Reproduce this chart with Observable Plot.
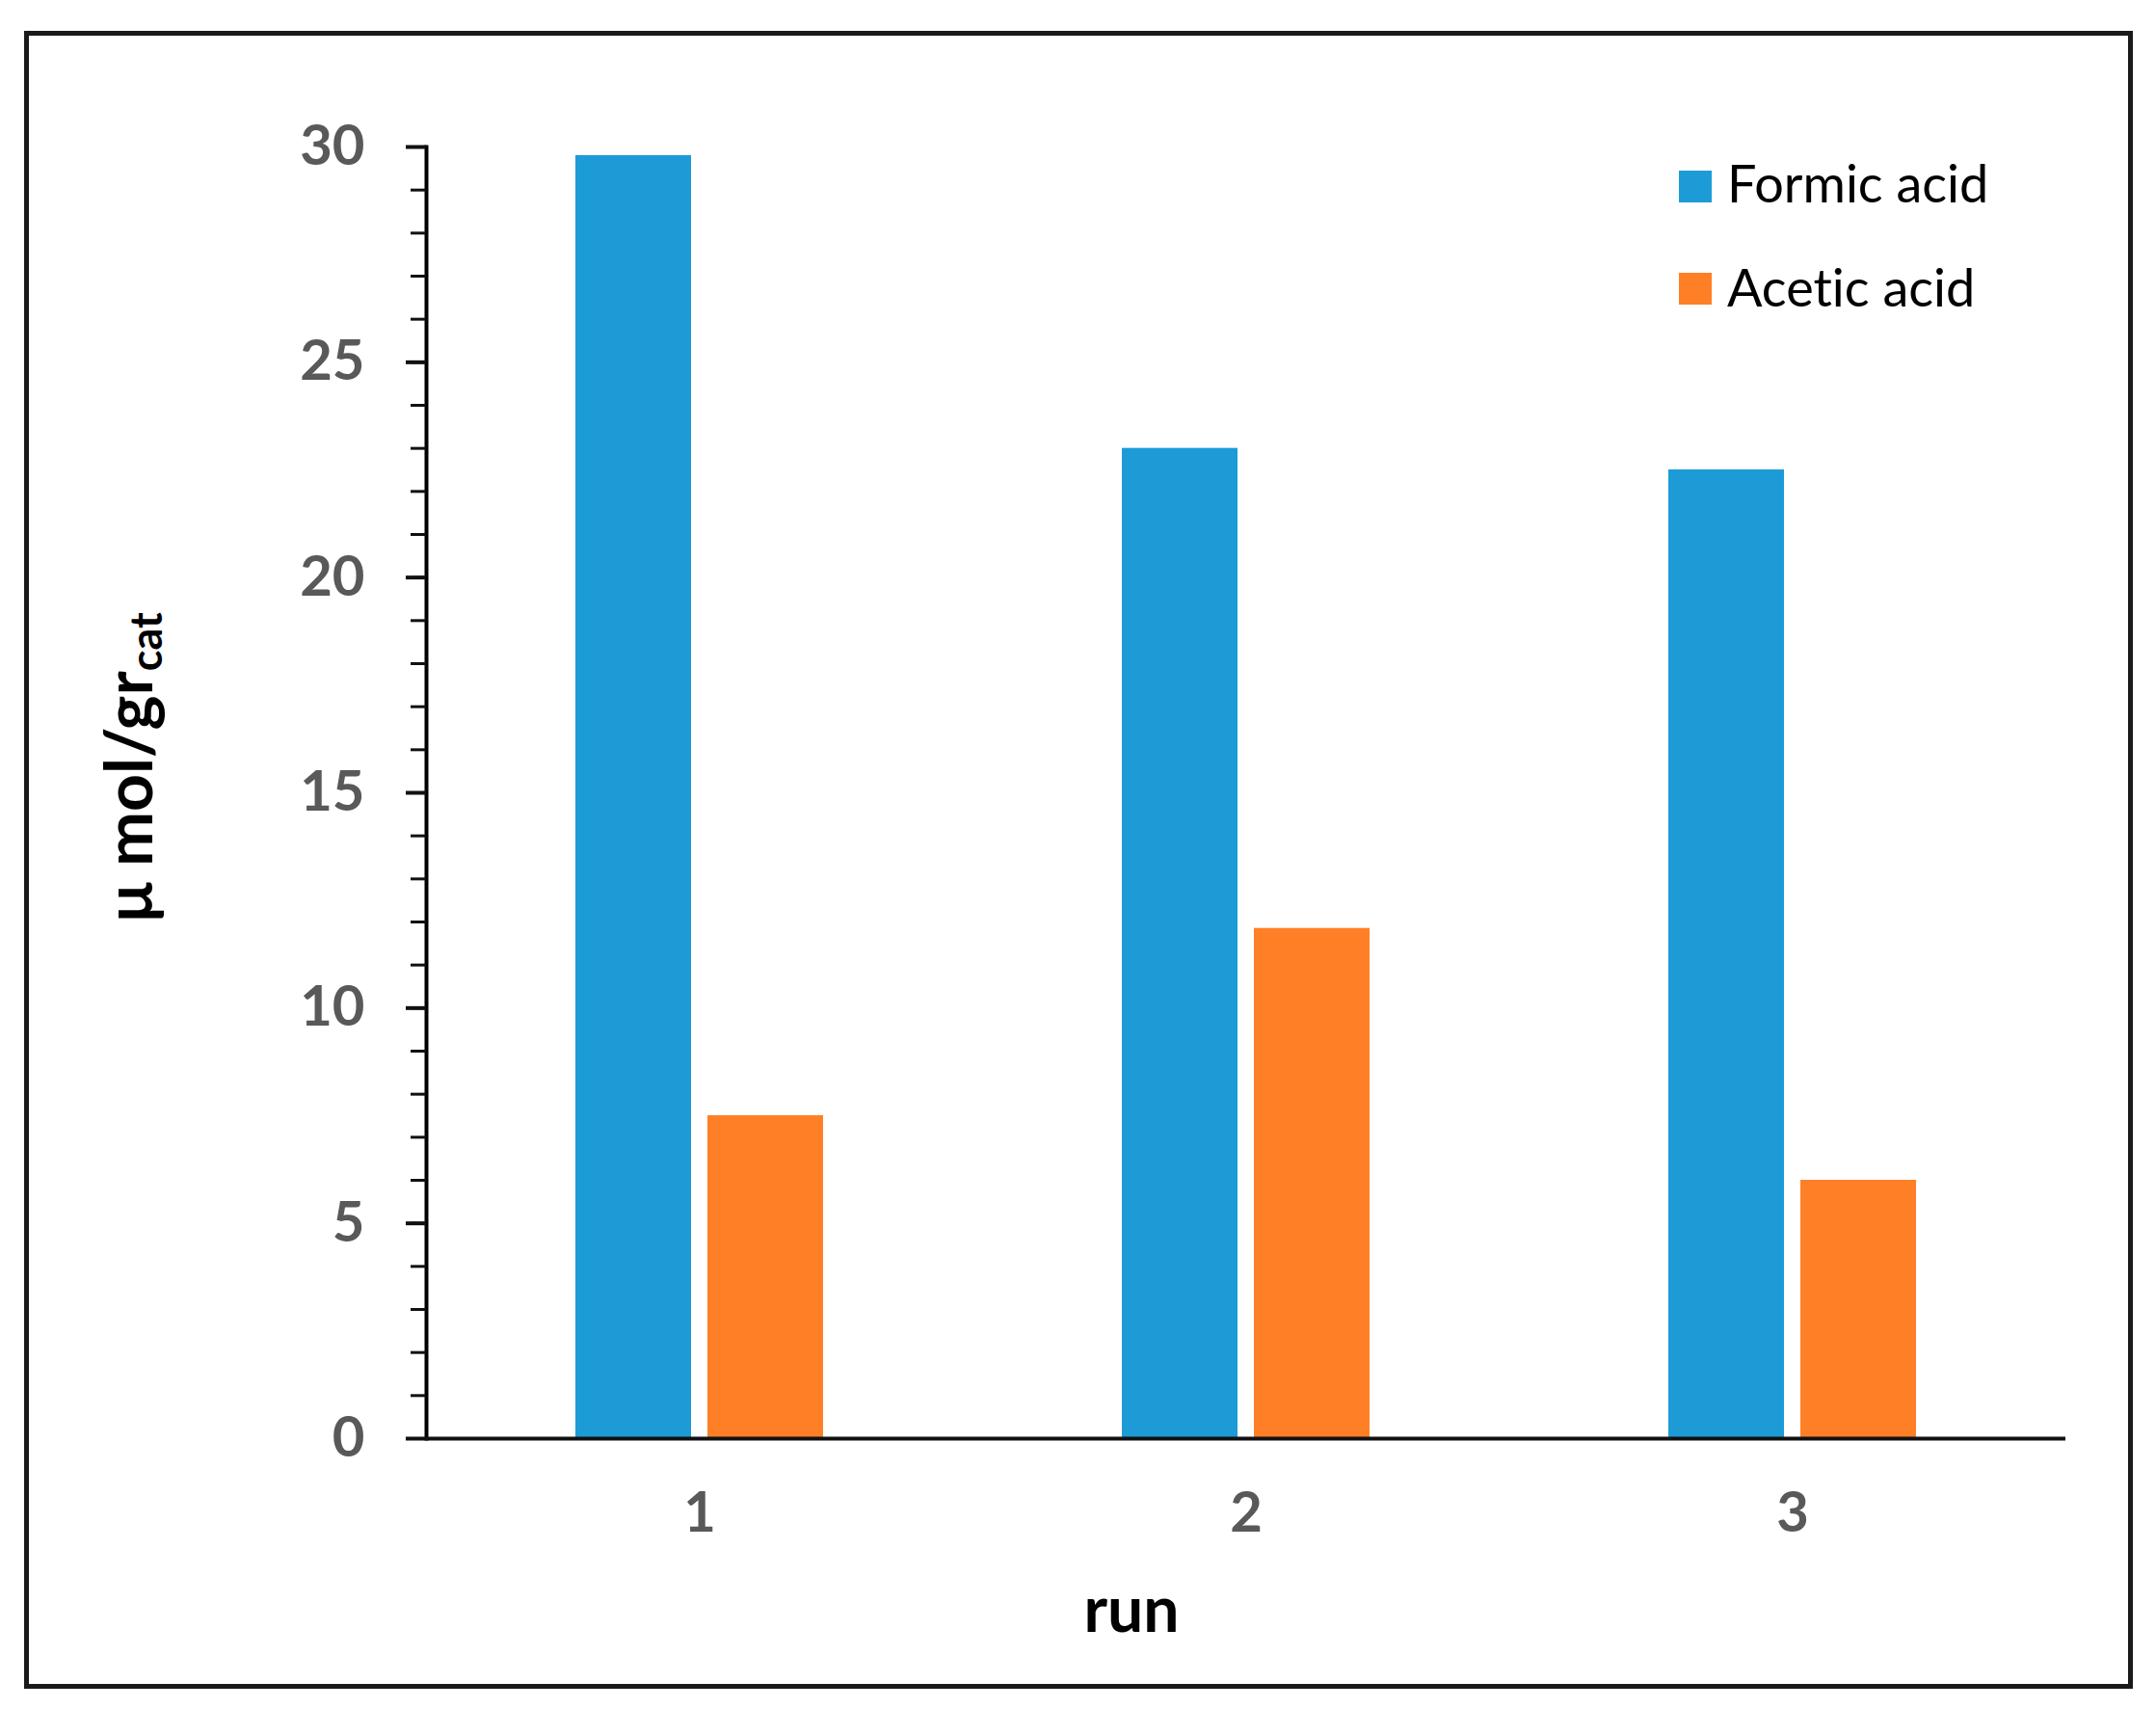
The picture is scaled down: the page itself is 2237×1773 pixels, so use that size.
<!DOCTYPE html>
<html>
<head>
<meta charset="utf-8">
<script src="https://cdn.jsdelivr.net/npm/d3@7"></script>
<script src="https://cdn.jsdelivr.net/npm/@observablehq/plot@0.6"></script>
<style>
  html, body { margin: 0; padding: 0; background: #fff; }
  body { width: 2237px; height: 1773px; position: relative; overflow: hidden; font-family: Lato, "Open Sans", sans-serif; font-variant-ligatures: none; }
  #border { position: absolute; left: 25px; top: 32px; width: 2188px; height: 1720px; box-sizing: border-box; border: 5px solid #1a1a1a; }
  #chart, #minor { position: absolute; left: 0; top: 0; }
  #chart svg [aria-label^="y-axis"] text, #chart svg [aria-label^="fx-axis"] text { fill: #595959 !important; font-size: 58px !important; font-weight: 700 !important; font-family: Lato, sans-serif !important; }
  #chart svg [aria-label^="y-axis"] line { stroke: #111; stroke-width: 3px; }
  #minor svg line, #minor svg path { stroke: #111 !important; stroke-width: 3px !important; }
  #chart svg [aria-label^="y-axis"] path, #chart svg [aria-label="frame"] { stroke: #111; stroke-width: 4px; }
  #legend { position: absolute; left: 1742px; top: 150px; font-family: Lato, sans-serif; font-size: 54px; color: #000; font-variant-ligatures: none; font-feature-settings: "liga" 0, "dlig" 0; }
  .item { position: absolute; left: 0; white-space: nowrap; height: 60px; }
  .sw { position: absolute; left: 0; width: 34px; height: 33px; }
  .lab { position: absolute; left: 50px; line-height: 1; }
  #ylabel { position: absolute; left: 136px; top: 796px; transform: translate(-50%, -50%) rotate(-90deg); font-family: Lato, sans-serif; font-weight: 700; font-size: 68px; white-space: nowrap; color: #000; line-height: 1; }
  #ylabel sub { font-size: 0.66em; vertical-align: -0.22em; }
  #xlabel { position: absolute; left: 1174px; top: 1686px; transform: translate(-50%, -78%); font-family: Lato, sans-serif; font-weight: 700; font-size: 66px; color: #000; line-height: 1; }
</style>
</head>
<body>
<div id="border"></div>
<div id="chart"></div>
<div id="minor"></div>
<div id="legend"></div>
<div id="ylabel">μ mol/gr<sub>cat</sub></div>
<div id="xlabel">run</div>
<script>
const runs = ["1", "2", "3"];
const acids = ["Formic acid", "Acetic acid"];
const colors = ["#1D9BD7", "#FF7F27"];
const formic = [29.8, 23.0, 22.5];
const acetic = [7.5, 11.85, 6.0];
const yTicks = [0, 5, 10, 15, 20, 25, 30];
const yMinor = d3.range(0, 31, 1);

const data = runs.flatMap((r, i) => [
  {run: r, acid: acids[0], value: formic[i]},
  {run: r, acid: acids[1], value: acetic[i]}
]);

const W = 2237, H = 1773;
const margins = {marginLeft: 442, marginRight: 94, marginTop: 152, marginBottom: 281};

const plot = Plot.plot({
  width: W,
  height: H,
  ...margins,
  style: {background: "transparent", fontFamily: "Lato, sans-serif", fontSize: "58px", fontWeight: "bold", overflow: "visible"},
  facet: {data, x: "run"},
  fx: {domain: runs, padding: 0, label: null, tickSize: 0, tickPadding: 55},
  x: {domain: acids, paddingInner: 0.123, paddingOuter: 1.116, axis: null},
  y: {domain: [0, 30], ticks: yTicks, tickSize: 21, tickPadding: 43, line: true, label: null},
  color: {domain: acids, range: colors},
  marks: [
    Plot.barY(data, {x: "acid", y: "value", fill: "acid"}),
    Plot.ruleY([0], {stroke: "#111", strokeWidth: 4})
  ]
});
document.getElementById("chart").appendChild(plot);

const minor = Plot.plot({
  width: W,
  height: H,
  ...margins,
  style: {background: "transparent", overflow: "visible", color: "#111", strokeWidth: "3px"},
  y: {domain: [0, 30], ticks: yMinor, tickSize: 16, tickFormat: () => "", label: null},
  marks: [Plot.ruleY([0], {stroke: "none"})]
});
document.getElementById("minor").appendChild(minor);

const legend = document.getElementById("legend");
acids.forEach((a, i) => {
  const item = document.createElement("div");
  item.className = "item";
  item.style.top = (i * 106) + "px";
  const sw = document.createElement("div");
  sw.className = "sw";
  sw.style.background = colors[i];
  sw.style.top = "27px";
  const lab = document.createElement("div");
  lab.className = "lab";
  lab.style.top = (i === 0 ? 13 : 15) + "px";
  lab.textContent = a;
  item.appendChild(sw);
  item.appendChild(lab);
  legend.appendChild(item);
});
</script>
</body>
</html>
